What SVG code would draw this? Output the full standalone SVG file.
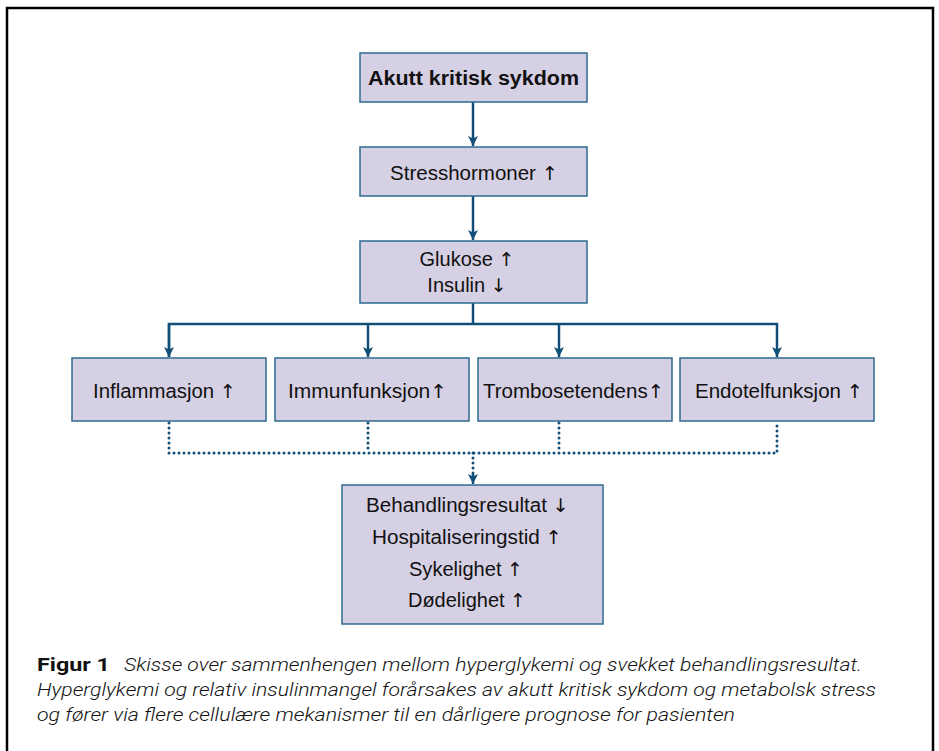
<svg xmlns="http://www.w3.org/2000/svg" width="939" height="751" viewBox="0 0 939 751">
<style>
.box{fill:#d6d0e4;stroke:#2e6a8e;stroke-width:1.5}
.t{font-family:"Liberation Sans",Arial,sans-serif;font-size:20px;fill:#111}
.b{font-weight:bold}
.ar{font-family:"DejaVu Sans",sans-serif;font-weight:normal;font-size:19px}
.c{fill:none;stroke:#124f78;stroke-width:2.5}
.d{fill:none;stroke:#124f78;stroke-width:3;stroke-dasharray:0 5;stroke-linecap:round}
.cap{font-family:Roboto,"Liberation Sans",sans-serif;font-size:19px;fill:#111}
</style>
<defs>
<marker id="ah" viewBox="0 0 10 10" refX="10" refY="5" markerWidth="10" markerHeight="10" markerUnits="userSpaceOnUse" orient="auto">
<path d="M0,0 L10,5 L0,10 L2.5,5 z" fill="#124f78"/>
</marker>
</defs>
<rect width="939" height="751" fill="#fff"/>
<path d="M7,751 V8 H933 V751" fill="none" stroke="#000" stroke-width="2.5"/>
<g id="connectors">
<line class="c" x1="473" y1="102" x2="473" y2="146" marker-end="url(#ah)"/>
<line class="c" x1="473" y1="196" x2="473" y2="240" marker-end="url(#ah)"/>
<line class="c" x1="473" y1="303" x2="473" y2="324"/>
<path class="c" d="M169,357 V324 H777 V357" marker-end="url(#ah)"/>
<path class="c" d="M169,324 V357" marker-end="url(#ah)"/>
<line class="c" x1="368" y1="324" x2="368" y2="357" marker-end="url(#ah)"/>
<line class="c" x1="559" y1="324" x2="559" y2="357" marker-end="url(#ah)"/>
<path class="d" d="M169,423 V453 H777 V423"/>
<line class="d" x1="368" y1="423" x2="368" y2="453"/>
<line class="d" x1="559" y1="423" x2="559" y2="453"/>
<line class="d" x1="473" y1="453" x2="473" y2="474"/>
<line class="c" x1="473" y1="474" x2="473" y2="484" marker-end="url(#ah)" stroke-width="1"/>
</g>
<g id="n1"><rect class="box" x="360" y="53" width="227" height="49"/><text class="t b" x="368" y="85" textLength="211" lengthAdjust="spacingAndGlyphs">Akutt kritisk sykdom</text></g>
<g id="n2"><rect class="box" x="360" y="147" width="227" height="49"/><text class="t" x="390" y="180" textLength="168" lengthAdjust="spacingAndGlyphs">Stresshormoner <tspan class="ar">↑</tspan></text></g>
<g id="n3"><rect class="box" x="360" y="241" width="227" height="62"/><text class="t" x="467" y="266" text-anchor="middle">Glukose <tspan class="ar">↑</tspan></text><text class="t" x="467" y="292" text-anchor="middle">Insulin <tspan class="ar">↓</tspan></text></g>
<g id="n4"><rect class="box" x="72" y="358" width="194" height="63"/><text class="t" x="93" y="398" textLength="143" lengthAdjust="spacingAndGlyphs">Inflammasjon <tspan class="ar">↑</tspan></text></g>
<g id="n5"><rect class="box" x="275" y="358" width="194" height="63"/><text class="t" x="288" y="398" textLength="159" lengthAdjust="spacingAndGlyphs">Immunfunksjon<tspan class="ar">↑</tspan></text></g>
<g id="n6"><rect class="box" x="478" y="358" width="194" height="63"/><text class="t" x="483" y="398" textLength="181" lengthAdjust="spacingAndGlyphs">Trombosetendens<tspan class="ar">↑</tspan></text></g>
<g id="n7"><rect class="box" x="680" y="358" width="194" height="63"/><text class="t" x="695" y="398" textLength="168" lengthAdjust="spacingAndGlyphs">Endotelfunksjon <tspan class="ar">↑</tspan></text></g>
<g id="n8"><rect class="box" x="342" y="485" width="261" height="139"/>
<text class="t" x="366" y="512" textLength="203" lengthAdjust="spacingAndGlyphs">Behandlingsresultat <tspan class="ar">↓</tspan></text>
<text class="t" x="372" y="544" textLength="190" lengthAdjust="spacingAndGlyphs">Hospitaliseringstid <tspan class="ar">↑</tspan></text>
<text class="t" x="409" y="576" textLength="114" lengthAdjust="spacingAndGlyphs">Sykelighet <tspan class="ar">↑</tspan></text>
<text class="t" x="408" y="607" textLength="118" lengthAdjust="spacingAndGlyphs">Dødelighet <tspan class="ar">↑</tspan></text>
</g>
<g id="caption">
<text class="cap" x="37" y="671" font-weight="bold" font-size="20" textLength="73" lengthAdjust="spacingAndGlyphs">Figur 1</text>
<text class="cap" x="124" y="671" font-style="italic" font-weight="300" textLength="738" lengthAdjust="spacingAndGlyphs">Skisse over sammenhengen mellom hyperglykemi og svekket behandlingsresultat.</text>
<text class="cap" x="37" y="696" font-style="italic" font-weight="300" textLength="839" lengthAdjust="spacingAndGlyphs">Hyperglykemi og relativ insulinmangel forårsakes av akutt kritisk sykdom og metabolsk stress</text>
<text class="cap" x="37" y="721" font-style="italic" font-weight="300" textLength="698" lengthAdjust="spacingAndGlyphs">og fører via flere cellulære mekanismer til en dårligere prognose for pasienten</text>
</g>
</svg>
